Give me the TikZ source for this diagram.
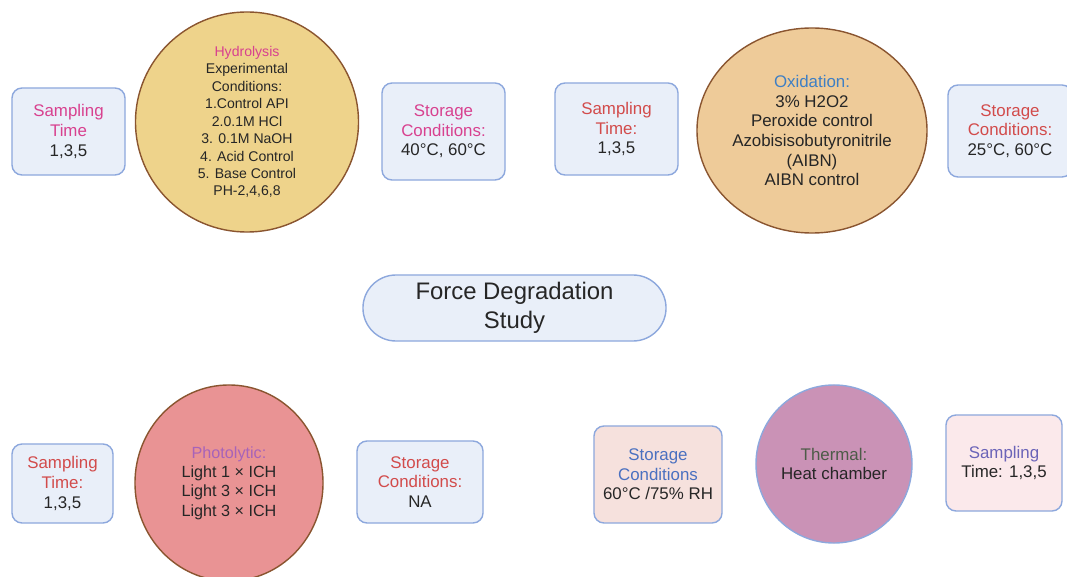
\documentclass[tikz,border=0pt]{standalone}
\usepackage{fontspec}
\setmainfont{Liberation Sans}
\usetikzlibrary{shapes.geometric}
\definecolor{boxfill}{HTML}{E9EFF9}
\definecolor{boxline}{HTML}{8DA8DD}
\definecolor{pinkfill}{HTML}{F6E1DD}
\definecolor{rosefill}{HTML}{FBE9EB}
\definecolor{hydrofill}{HTML}{EED38B}
\definecolor{oxidfill}{HTML}{EECB99}
\definecolor{photofill}{HTML}{E99394}
\definecolor{thermfill}{HTML}{CA92B6}
\definecolor{brownline}{HTML}{8A5530}
\definecolor{magentatxt}{HTML}{D8418F}
\definecolor{redtxt}{HTML}{D24B4B}
\definecolor{bluetxt}{HTML}{3E7FC4}
\definecolor{purpletxt}{HTML}{A763B9}
\definecolor{greentxt}{HTML}{4D5B48}
\definecolor{stortxt}{HTML}{4A70C0}
\definecolor{violettxt}{HTML}{6B64B8}
\definecolor{bodytxt}{HTML}{262626}
\begin{document}
\begin{tikzpicture}[x=0.025cm,y=-0.025cm,
	infobox/.style={draw=boxline,fill=boxfill,line width=1pt,rounded corners=0.25cm,align=center,text=bodytxt,inner sep=0pt,font=\fontsize{12}{14}\selectfont},
	testoval/.style={ellipse,draw=brownline,line width=1pt,align=center,text=bodytxt,inner sep=0pt,font=\fontsize{12}{14}\selectfont}]
	\useasboundingbox (0,0) rectangle (1067,577);
	% hydrolysis
	\node[infobox, minimum width=2.825cm, minimum height=2.175cm] (samp1) at (68.5,131.5) {\textcolor{magentatxt}{Sampling}\\\textcolor{magentatxt}{Time}\\1,3,5};
	\node[testoval, fill=hydrofill, minimum width=5.575cm, minimum height=5.5cm, font=\fontsize{10}{12.4}\selectfont] (hydro) at (247,122) {\textcolor{magentatxt}{Hydrolysis}\\Experimental\\Conditions:\\1.Control API\\2.0.1M HCl\\3. 0.1M NaOH\\4. Acid Control\\5. Base Control\\PH-2,4,6,8};
	\node[infobox, minimum width=3.075cm, minimum height=2.425cm] (stor1) at (443.5,131.5) {\textcolor{magentatxt}{Storage}\\\textcolor{magentatxt}{Conditions:}\\40°C, 60°C};
	% oxidation
	\node[infobox, minimum width=3.075cm, minimum height=2.3cm] (samp2) at (616.5,129) {\textcolor{redtxt}{Sampling}\\\textcolor{redtxt}{Time:}\\1,3,5};
	\node[testoval, fill=oxidfill, minimum width=5.75cm, minimum height=5.125cm] (oxid) at (812,130.5) {\textcolor{bluetxt}{Oxidation:}\\3\% H2O2\\Peroxide control\\Azobisisobutyronitrile\\(AIBN)\\AIBN control};
	\node[infobox, minimum width=3.1cm, minimum height=2.3cm] (stor2) at (1010,131) {\textcolor{redtxt}{Storage}\\\textcolor{redtxt}{Conditions:}\\25°C, 60°C};
	% centre
	\node[infobox, rounded corners=0.825cm, minimum width=7.575cm, minimum height=1.65cm, font=\fontsize{17}{20.6}\selectfont] (study) at (514.5,308) {Force Degradation\\Study};
	% photolytic
	\node[infobox, minimum width=2.525cm, minimum height=1.975cm] (samp3) at (62.5,483.5) {\textcolor{redtxt}{Sampling}\\\textcolor{redtxt}{Time:}\\1,3,5};
	\node[testoval, fill=photofill, minimum width=4.7cm, minimum height=4.9cm, font=\fontsize{11.5}{13.8}\selectfont] (photo) at (229,483) {\textcolor{purpletxt}{Photolytic:}\\Light 1 × ICH\\Light 3 × ICH\\Light 3 × ICH};
	\node[infobox, minimum width=3.15cm, minimum height=2.05cm] (stor3) at (420,482) {\textcolor{redtxt}{Storage}\\\textcolor{redtxt}{Conditions:}\\NA};
	% thermal
	\node[infobox, fill=pinkfill, minimum width=3.2cm, minimum height=2.425cm] (stor4) at (658,474.5) {\textcolor{stortxt}{Storage}\\\textcolor{stortxt}{Conditions}\\60°C /75\% RH};
	\node[testoval, draw=boxline, fill=thermfill, minimum width=3.9cm, minimum height=3.95cm] (therm) at (834,464) {\textcolor{greentxt}{Thermal:}\\Heat chamber};
	\node[infobox, fill=rosefill, minimum width=2.9cm, minimum height=2.4cm] (samp4) at (1004,463) {\textcolor{violettxt}{Sampling}\\Time: 1,3,5};
\end{tikzpicture}
\end{document}
